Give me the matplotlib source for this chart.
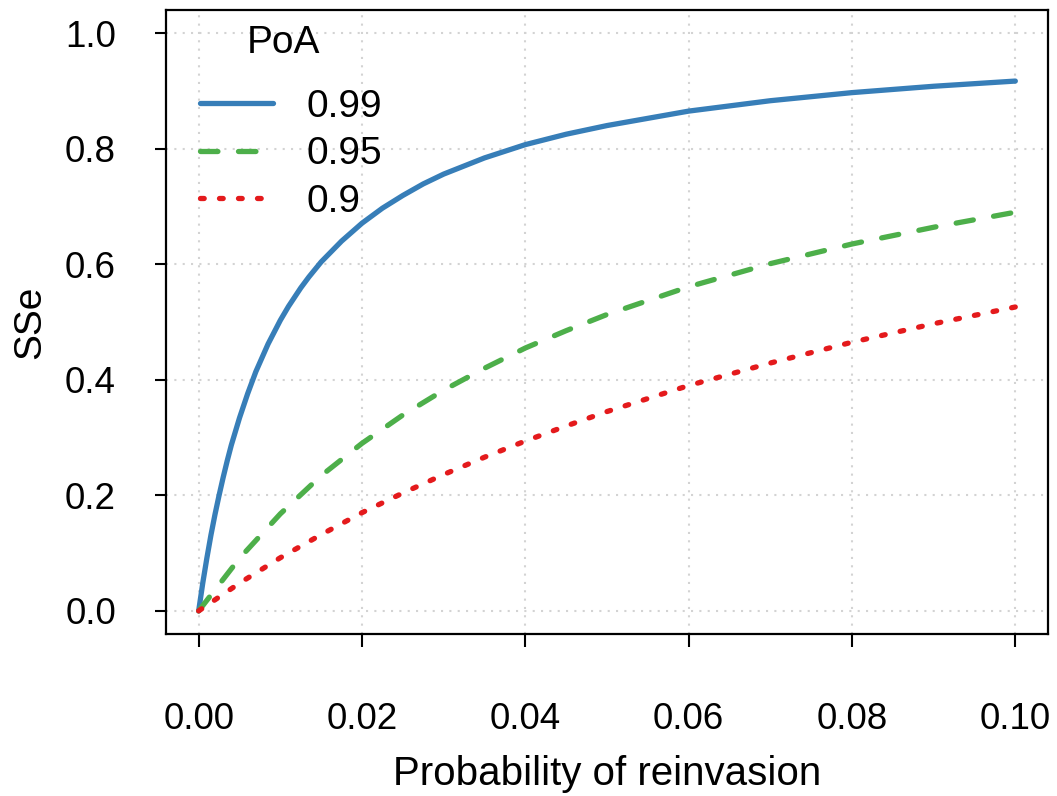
import matplotlib
matplotlib.use('Agg')
import matplotlib.pyplot as plt

# reinvasion probability (x) and SSe
x_099 = [0, 0.0005, 0.001, 0.0015, 0.002, 0.0025, 0.003, 0.0035, 0.004, 0.005, 0.006,
         0.007, 0.0085, 0.01, 0.011, 0.0125, 0.0135, 0.015, 0.0175, 0.02, 0.0225,
         0.025, 0.0275, 0.03, 0.035, 0.04, 0.045, 0.05, 0.06, 0.07, 0.08, 0.09, 0.1]
sse_099 = [0, 0.048, 0.091, 0.131, 0.167, 0.200, 0.231, 0.260, 0.287, 0.334, 0.376,
           0.414, 0.462, 0.503, 0.527, 0.559, 0.578, 0.604, 0.640, 0.671, 0.697,
           0.719, 0.739, 0.756, 0.784, 0.807, 0.825, 0.840, 0.865, 0.883, 0.897, 0.908, 0.917]

x_low = [0, 0.005, 0.01, 0.015, 0.02, 0.025, 0.03, 0.035, 0.04, 0.045, 0.05,
         0.06, 0.07, 0.08, 0.09, 0.1]
sse_095 = [0, 0.091, 0.168, 0.234, 0.290, 0.339, 0.382, 0.420, 0.455, 0.485, 0.513,
           0.561, 0.601, 0.635, 0.664, 0.690]
sse_090 = [0, 0.048, 0.092, 0.132, 0.170, 0.204, 0.236, 0.266, 0.294, 0.320, 0.345,
           0.390, 0.429, 0.465, 0.497, 0.526]

x_ticks = [0.00, 0.02, 0.04, 0.06, 0.08, 0.10]
y_ticks = [0.0, 0.2, 0.4, 0.6, 0.8, 1.0]

plt.rcParams['font.family'] = ['Liberation Sans', 'DejaVu Sans']

W, H = 1057, 796
fig = plt.figure(figsize=(W / 100, H / 100), dpi=100)
ax = fig.add_axes([166 / W, 1 - 634 / H, (1048 - 166) / W, (634 - 10) / H])

ax.grid(True, color='#d3d3d3', linestyle=(0, (1, 3)), linewidth=1.5)
ax.set_axisbelow(True)

lw = 3.8
ax.plot(x_099, sse_099, color='#377EB8', linewidth=lw, solid_capstyle='round',
        solid_joinstyle='round', label='0.99')
ax.plot(x_low, sse_095, color='#4DAF4A', linewidth=lw, linestyle=(0, (3.3, 3.9)),
        dash_capstyle='round', label='0.95')
ax.plot(x_low, sse_090, color='#E41A1C', linewidth=lw, linestyle=(0, (0.7, 2.9)),
        dash_capstyle='round', label='0.9')

ax.set_xlim(-0.004, 0.104)
ax.set_ylim(-0.04, 1.04)
ax.set_xticks(x_ticks)
ax.set_xticklabels(['0.00', '0.02', '0.04', '0.06', '0.08', '0.10'])
ax.set_yticks(y_ticks)
ax.set_yticklabels(['0.0', '0.2', '0.4', '0.6', '0.8', '1.0'])
ax.tick_params(axis='x', length=9, width=1.5, labelsize=26.5, pad=40)
ax.tick_params(axis='y', length=8, width=1.5, labelsize=26.5, pad=28)
for s in ax.spines.values():
    s.set_linewidth(1.6)

ax.set_xlabel('Probability of reinvasion', fontsize=29, labelpad=13)
ax.set_ylabel('SSe', fontsize=28, labelpad=12)

leg = ax.legend(loc='upper left', bbox_to_anchor=(0.0385, 0.874),
                frameon=False, fontsize=28, borderpad=0,
                borderaxespad=0, handlelength=1.88, handletextpad=0.87,
                labelspacing=0.30)
ax.text(0.133, 0.947, 'PoA', transform=ax.transAxes, fontsize=28,
        ha='center', va='center')

fig.savefig('out.png', dpi=100)
